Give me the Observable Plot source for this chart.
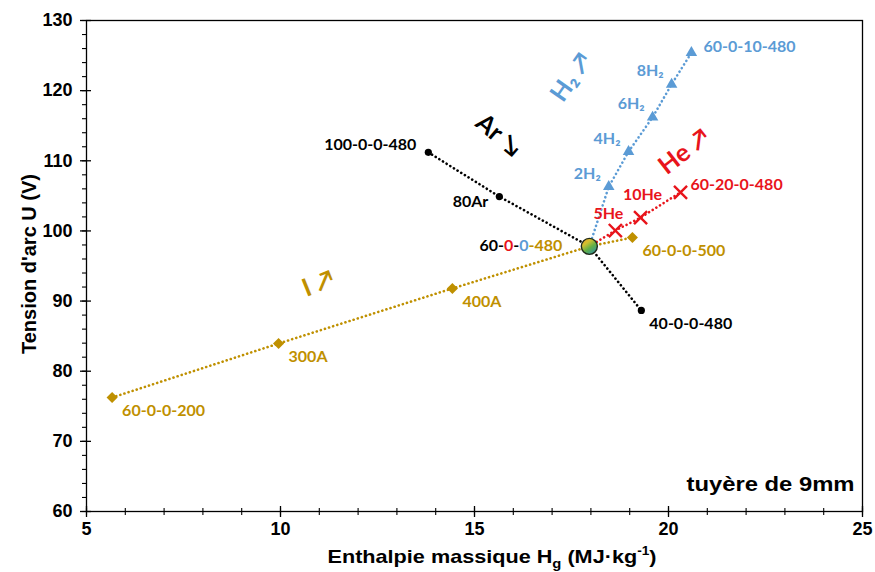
<!DOCTYPE html>
<html><head><meta charset="utf-8">
<script src="https://cdn.jsdelivr.net/npm/d3@7"></script>
<script src="https://cdn.jsdelivr.net/npm/@observablehq/plot@0.6"></script>
<style>body{margin:0;background:#fff}</style>
</head><body><div id="chart"></div>
<script>
// Current series (I)
const currentLabels = ["60-0-0-200", "300A", "400A", "60-0-0-480", "60-0-0-500"];
const currentX = [5.66, 9.95, 14.43, 17.96, 19.07];
const currentY = [76.25, 83.95, 91.8, 97.8, 99.06];
// Argon series
const argonLabels = ["100-0-0-480", "80Ar", "60-0-0-480", "40-0-0-480"];
const argonX = [13.81, 15.64, 17.96, 19.3];
const argonY = [111.2, 104.9, 97.8, 88.66];
// Hydrogen series
const h2Labels = ["60-0-0-480", "2H₂", "4H₂", "6H₂", "8H₂", "60-0-10-480"];
const h2X = [17.96, 18.46, 18.97, 19.59, 20.08, 20.59];
const h2Y = [97.8, 106.3, 111.3, 116.2, 120.9, 125.4];
// Helium series
const heLabels = ["60-0-0-480", "5He", "10He", "60-20-0-480"];
const heX = [17.96, 18.63, 19.28, 20.31];
const heY = [97.8, 100.06, 101.9, 105.5];
// Reference point
const refLabel = ["60-0-0-480"];
const refX = [17.96];
const refY = [97.8];
// Trend annotations
const annotText = ["Ar ↘", "H₂ ↗", "He ↗", "I ↗"];
const annotX = [15.62, 17.5, 20.41, 10.98];
const annotY = [113.6, 121.9, 111.3, 92.5];
const noteText = ["tuyère de 9mm"];

const xMajor = [5, 10, 15, 20, 25];
const xMinor = d3.range(5, 26, 1);
const yMajor = [60, 70, 80, 90, 100, 110, 120, 130];
const yMinor = d3.range(60, 131, 2);

const GOLD = "#BF9000", BLACK = "#000000", BLUE = "#5B9BD5", RED = "#E8141B";
const LF = "Lato, 'Open Sans', sans-serif";
const AF = "'Liberation Sans', Arial, sans-serif";

const rows = (xs, ys, ls) => xs.map((x, i) => ({x, y: ys[i], label: ls[i]}));
const cur = rows(currentX, currentY, currentLabels);
const ar = rows(argonX, argonY, argonLabels);
const h2 = rows(h2X, h2Y, h2Labels);
const he = rows(heX, heY, heLabels);
const ref = rows(refX, refY, refLabel);
const ann = rows(annotX, annotY, annotText);

const dotted = {x: "x", y: "y", strokeWidth: 2.6, strokeDasharray: "0.1,4.2", strokeLinecap: "round"};
const lab = (data, idx, color, opts) => Plot.text(idx.map(i => data[i]), {x: "x", y: "y", text: "label", fill: color, fontFamily: LF, fontWeight: 700, fontSize: 16, ...opts});

const svg = Plot.plot({
  width: 875, height: 572,
  marginLeft: 86, marginRight: 13, marginTop: 20, marginBottom: 61,
  x: {domain: [5, 25]},
  y: {domain: [60, 130]},
  style: {background: "#fff", color: "#000"},
  marks: [
    Plot.frame({stroke: "#000", strokeWidth: 1.3}),
    Plot.axisX({ticks: xMajor, tickSize: 6, tickPadding: 5, fontSize: 18, fontWeight: 700, fontFamily: AF, label: null, strokeWidth: 1.3, className: "xticks"}),
    Plot.axisX({ticks: xMajor, tickSize: -5, text: null, label: null, strokeWidth: 1.3}),
    Plot.axisX({ticks: xMinor, tickSize: 4, text: null, label: null, strokeWidth: 1.1}),
    Plot.axisX({ticks: xMinor, tickSize: -3, text: null, label: null, strokeWidth: 1.1}),
    Plot.axisY({ticks: yMajor, tickSize: 6, tickPadding: 8, fontSize: 18, fontWeight: 700, fontFamily: AF, label: null, strokeWidth: 1.3, className: "yticks"}),
    Plot.axisY({ticks: yMajor, tickSize: -5, text: null, label: null, strokeWidth: 1.3}),
    Plot.axisY({ticks: yMinor, tickSize: 4, text: null, label: null, strokeWidth: 1.1}),

    Plot.line(cur, {...dotted, stroke: GOLD}),
    Plot.line(ar, {...dotted, stroke: BLACK}),
    Plot.line(h2, {...dotted, stroke: BLUE}),
    Plot.line(he, {...dotted, stroke: RED}),

    Plot.dot(cur.filter((d, i) => i !== 3), {x: "x", y: "y", symbol: "diamond2", r: 5, fill: GOLD, stroke: null}),
    Plot.dot(ar.filter((d, i) => i !== 2), {x: "x", y: "y", symbol: "circle", r: 3.6, fill: BLACK, stroke: null}),
    Plot.dot(h2.filter((d, i) => i !== 0), {x: "x", y: "y", symbol: "triangle2", r: 5.5, fill: BLUE, stroke: null}),
    Plot.dot(he.filter((d, i) => i !== 0), {x: "x", y: "y", symbol: "times", r: 6, stroke: RED, strokeWidth: 2.4}),
    Plot.dot(ref, {x: "x", y: "y", r: 8, fill: "url(#refGrad)", stroke: "#1f2a1a", strokeWidth: 1.4}),

    // labels
    lab(cur, [0, 1, 2, 4], GOLD, {textAnchor: "start", dx: 10, dy: 13}),
    lab(ar, [0], BLACK, {textAnchor: "end", dx: -12, dy: -7}),
    lab(ar, [1], BLACK, {textAnchor: "end", dx: -11, dy: 5}),
    lab(ar, [3], BLACK, {textAnchor: "start", dx: 8, dy: 13}),
    lab(h2, [1, 2, 3, 4], BLUE, {textAnchor: "end", dx: -8, dy: -13}),
    lab(h2, [5], BLUE, {textAnchor: "start", dx: 12, dy: -6}),
    lab(he, [1], RED, {textAnchor: "middle", dx: -7, dy: -17}),
    lab(he, [2], RED, {textAnchor: "middle", dx: 2, dy: -23}),
    lab(he, [3], RED, {textAnchor: "start", dx: 10, dy: -7}),
    lab(ref, [0], BLACK, {textAnchor: "end", dx: -27, dy: 0, className: "reflabel"}),

    // trend annotations
    Plot.text([ann[0]], {x: "x", y: "y", text: "label", rotate: 40, fill: BLACK, fontFamily: LF, fontWeight: 700, fontSize: 25}),
    Plot.text([ann[1]], {x: "x", y: "y", text: "label", rotate: -55, fill: BLUE, fontFamily: LF, fontWeight: 700, fontSize: 25}),
    Plot.text([ann[2]], {x: "x", y: "y", text: "label", rotate: -38, fill: RED, fontFamily: LF, fontWeight: 700, fontSize: 25}),
    Plot.text([ann[3]], {x: "x", y: "y", text: "label", rotate: -22, fill: GOLD, fontFamily: LF, fontWeight: 700, fontSize: 25}),

    Plot.text(noteText, {frameAnchor: "bottom-right", text: d => d, textAnchor: "end", dx: -8, dy: -21, fill: BLACK, fontFamily: AF, fontWeight: 700, fontSize: 21, className: "note"})
  ]
});

const s = d3.select(svg);
// gradient for the reference point
const g = s.insert("defs", ":first-child").append("linearGradient")
  .attr("id", "refGrad").attr("x1", "0.1").attr("y1", "0").attr("x2", "0.8").attr("y2", "1");
g.append("stop").attr("offset", "0%").attr("stop-color", "#F2A024");
g.append("stop").attr("offset", "30%").attr("stop-color", "#D2C030");
g.append("stop").attr("offset", "60%").attr("stop-color", "#62B045");
g.append("stop").attr("offset", "100%").attr("stop-color", "#2C8EA6");

// multi-coloured reference label
s.selectAll("g.reflabel text").each(function() {
  const t = d3.select(this);
  t.text(null);
  [["60-", BLACK], ["0", RED], ["-", BLACK], ["0", BLUE], ["-480", GOLD]].forEach(([str, c]) =>
    t.append("tspan").attr("fill", c).text(str));
});

// the reference image is slightly wide: stretch note text horizontally
s.selectAll("g.note text").attr("textLength", 168).attr("lengthAdjust", "spacingAndGlyphs");

// axis titles with sub/superscripts
const xt = s.append("text").attr("x", 492).attr("y", 563).attr("text-anchor", "middle")
  .attr("font-family", AF).attr("font-weight", 700).attr("font-size", 19).attr("fill", "#000")
  .attr("textLength", 329).attr("lengthAdjust", "spacingAndGlyphs");
xt.append("tspan").text("Enthalpie massique H");
xt.append("tspan").attr("font-size", 13).attr("dy", 5).text("g");
xt.append("tspan").attr("dy", -5).text(" (MJ·kg");
xt.append("tspan").attr("font-size", 12).attr("dy", -8).text("-1");
xt.append("tspan").attr("dy", 8).text(")");

s.append("text").attr("transform", "translate(36,264) rotate(-90)").attr("text-anchor", "middle")
  .attr("font-family", AF).attr("font-weight", 700).attr("font-size", 20).attr("fill", "#000")
  .text("Tension d'arc U (V)");

document.getElementById("chart").appendChild(svg);
</script>
</body></html>
